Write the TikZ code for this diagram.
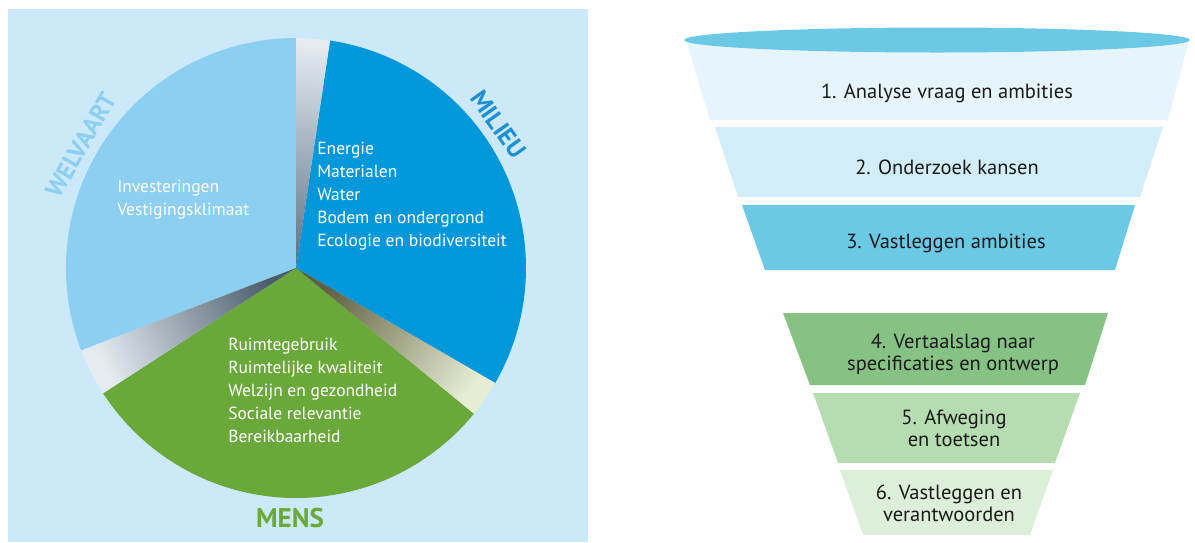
\documentclass[tikz,border=0pt]{standalone}
\usepackage{fontspec}
\setmainfont{PT Sans}
\usetikzlibrary{positioning}

\definecolor{achtergrond}{HTML}{CBE9F9}
\definecolor{welvaart}{HTML}{8CCFF0}
\definecolor{milieu}{HTML}{0098DA}
\definecolor{milieulabel}{HTML}{1E90D0}
\definecolor{mens}{HTML}{6AA83A}
\definecolor{trechter}{HTML}{6CC9E6}
\definecolor{stapeen}{HTML}{E6F5FB}
\definecolor{staptwee}{HTML}{D3EDF8}
\definecolor{stapvier}{HTML}{86C283}
\definecolor{stapvijf}{HTML}{B6DCB1}
\definecolor{stapzes}{HTML}{DCEFD8}
\definecolor{tekst}{HTML}{1A1A1A}
\definecolor{vouwgrijs}{HTML}{5E7488}
\definecolor{vouwlicht}{HTML}{E4ECF1}
\definecolor{vouwolijf}{HTML}{5F5E40}
\definecolor{vouwcreme}{HTML}{E6EDD2}

\tikzset{
  pietekst/.style={align=left,anchor=west,text=white,font=\fontsize{17.5}{23}\selectfont,inner sep=0pt},
  pielabel/.style={font=\fontsize{25}{25}\selectfont\bfseries,inner sep=0pt},
  staptekst/.style={align=center,text=tekst,font=\fontsize{20.5}{22}\selectfont,inner sep=0pt}
}

\begin{document}
\begin{tikzpicture}[x=1pt,y=-1pt,line width=0.6pt]
\useasboundingbox (0,0) rectangle (1195,542);

% achtergrond
\fill[achtergrond](8,9) rectangle (588,542);

% taartdiagram
\begin{scope}[shift={(296,268)},yscale=-1]
\fill[welvaart](0,0)--(90:230) arc[start angle=90,end angle=201,radius=230]--cycle;
\fill[mens](0,0)--(213:230) arc[start angle=213,end angle=320.7,radius=230]--cycle;
\fill[milieu](0,0)--(-30:230) arc[start angle=-30,end angle=81.5,radius=230]--cycle;
\shade[top color=vouwlicht,bottom color=vouwgrijs,shading angle=-4]
  (0,0)--(81.5:230) arc[start angle=81.5,end angle=90,radius=230]--cycle;
\shade[top color=vouwlicht,bottom color=vouwgrijs!80!black,shading angle=117]
  (0,0)--(201:230) arc[start angle=201,end angle=213,radius=230]--cycle;
\shade[top color=vouwcreme,bottom color=vouwolijf,shading angle=235]
  (0,0)--(320.7:230) arc[start angle=320.7,end angle=330,radius=230]--cycle;
\node[pielabel,text=welvaart,rotate=60] (welvaartlabel) at (150.3:248) {WELVAART};
\node[pielabel,text=milieulabel,rotate=-54.6] (milieulabel) at (35.4:248) {MILIEU};
\node[pielabel,text=mens,font=\fontsize{27}{27}\selectfont\bfseries] (menslabel) at (-6,-250) {MENS};
\end{scope}

\node[pietekst] (welvaarttekst) at (117,199.5) {Investeringen\\Vestigingsklimaat};
\node[pietekst] (milieutekst) at (317,196) {Energie\\Materialen\\Water\\Bodem en ondergrond\\Ecologie en biodiversiteit};
\node[pietekst] (menstekst) at (228,390.5) {Ruimtegebruik\\Ruimtelijke kwaliteit\\Welzijn en gezondheid\\Sociale relevantie\\Bereikbaarheid};

% trechter
\fill[stapeen](686,40)--(1189,40)--(1168,120)--(710,120)--cycle;
\fill[trechter](937,40) ellipse[x radius=253,y radius=12.5];
\fill[staptwee](715,127)--(1163,127)--(1140,197)--(738,197)--cycle;
\fill[trechter](742,205)--(1135,205)--(1115,270)--(765,270)--cycle;
\fill[stapvier](783,313)--(1108,313)--(1085,385)--(810,385)--cycle;
\fill[stapvijf](813,393)--(1080,393)--(1055,463)--(838,463)--cycle;
\fill[stapzes](840,470)--(1053,470)--(1030,535)--(863,535)--cycle;

\node[staptekst] (stap1) at (947,93) {1. Analyse vraag en ambities};
\node[staptekst] (stap2) at (947,167) {2. Onderzoek kansen};
\node[staptekst] (stap3) at (946,243) {3. Vastleggen ambities};
\node[staptekst] (stap4) at (953,354) {4. Vertaalslag naar\\specificaties en ontwerp};
\node[staptekst] (stap5) at (954,428) {5. Afweging\\en toetsen};
\node[staptekst] (stap6) at (949,503) {6. Vastleggen en\\verantwoorden};

\end{tikzpicture}
\end{document}
